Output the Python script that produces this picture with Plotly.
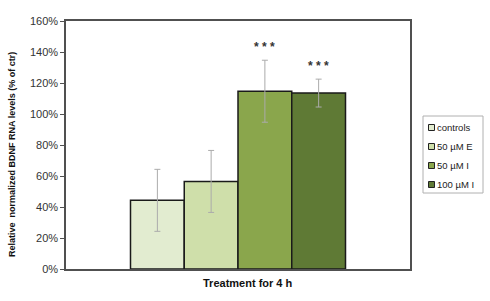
import plotly.graph_objects as go

groups = ["controls", "50 µM E", "50 µM I", "100 µM I"]
values = [44.3, 56.5, 114.7, 113.5]
errors = [20.0, 20.0, 20.0, 9.0]
stars = ["", "", "* * *", "* * *"]
colors = ["#e2ecd0", "#cfdfaa", "#8aa64c", "#5f7a35"]
y_ticks = [0, 20, 40, 60, 80, 100, 120, 140, 160]

W, H = 490, 301
ML, MR, MT, MB = 66, 80, 21, 32
PW, PH = W - ML - MR, H - MT - MB


def px(x):
    return (x - ML) / PW


def py(y):
    return (H - MB - y) / PH


fig = go.Figure()
for g, v, e, c in zip(groups, values, errors, colors):
    fig.add_trace(go.Bar(
        x=[0], y=[v], name=g, showlegend=False,
        marker=dict(color=c, line=dict(color="#1a1a1a", width=1.5)),
        error_y=dict(type="data", array=[e], visible=True, color="#ababab", thickness=1, width=3),
    ))

bargap = 0.375
n = len(groups)
bw = (1 - bargap) / n
for i, (s, v, e) in enumerate(zip(stars, values, errors)):
    if s:
        fig.add_annotation(
            x=-(1 - bargap) / 2 + bw * (i + 0.5), y=v + e + 2.5,
            text="<b>" + s + "</b>", showarrow=False, yanchor="bottom",
            font=dict(family="Arial", size=12, color="#333"),
        )

# compact legend (box, swatches, labels)
lx0, lx1, ly0, ly1 = 423, 483, 116, 193
fig.add_shape(type="rect", xref="paper", yref="paper",
              x0=px(lx0), x1=px(lx1), y0=py(ly1), y1=py(ly0),
              line=dict(color="#b0b0b0", width=1), fillcolor="white")
for i, (g, c) in enumerate(zip(groups, colors)):
    cy = 127.5 + 19 * i
    fig.add_shape(type="rect", xref="paper", yref="paper",
                  x0=px(428.5), x1=px(434.5), y0=py(cy + 3), y1=py(cy - 3),
                  line=dict(color="#222", width=1), fillcolor=c)
    fig.add_annotation(xref="paper", yref="paper", x=px(434.5), y=py(cy),
                       text=g, showarrow=False, xanchor="left", yanchor="middle",
                       font=dict(family="Arial", size=9.5, color="#222"))

# axis titles
fig.add_annotation(xref="paper", yref="paper", x=px(248), y=py(283),
                   text="<b>Treatment for 4 h</b>", showarrow=False,
                   xanchor="center", yanchor="middle",
                   font=dict(family="Arial", size=11, color="#111"))
fig.add_annotation(xref="paper", yref="paper", x=px(12), y=py(155),
                   text="<b>Relative  normalized BDNF RNA levels (% of ctr)</b>",
                   showarrow=False, textangle=-90, xanchor="center", yanchor="middle",
                   font=dict(family="Arial", size=9, color="#111"))

fig.update_layout(
    width=W, height=H,
    margin=dict(l=ML, r=MR, t=MT, b=MB),
    paper_bgcolor="white", plot_bgcolor="white",
    barmode="group", bargap=bargap, bargroupgap=0,
    showlegend=False,
    font=dict(family="Arial", color="#222"),
)
fig.update_xaxes(
    range=[-0.5, 0.5], showticklabels=False, ticks="",
    showline=True, linecolor="#505050", linewidth=1.5, mirror=True,
)
fig.update_yaxes(
    range=[0, 160], tickvals=y_ticks, ticktext=[f"{t}%" for t in y_ticks],
    showgrid=False, zeroline=False,
    ticks="outside", ticklen=4, tickcolor="#505050",
    showline=True, linecolor="#505050", linewidth=1.5, mirror=True,
    tickfont=dict(size=11, family="Arial", color="#333"),
)
fig.write_html("out.html", config={"displayModeBar": False},
               post_script="document.body.style.margin='0';document.body.style.overflow='hidden';")
